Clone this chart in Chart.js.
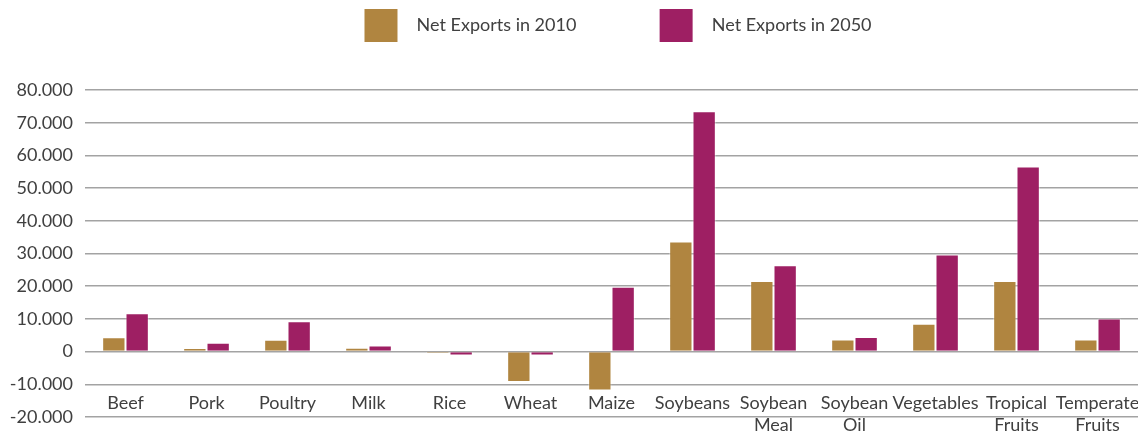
<!DOCTYPE html>
<html>
<head>
<meta charset="utf-8">
<script src="https://cdn.jsdelivr.net/npm/chart.js@4.4.1/dist/chart.umd.min.js"></script>
<style>
  html, body { margin: 0; padding: 0; background: #fff; }
  #wrap { width: 1138px; height: 433px; }
</style>
</head>
<body>
<div id="wrap"><canvas id="chart"></canvas></div>
<script>
const categories = [
    "Beef", "Pork", "Poultry", "Milk", "Rice", "Wheat", "Maize", "Soybeans",
    ["Soybean", "Meal"], ["Soybean", "Oil"], "Vegetables",
    ["Tropical", "Fruits"], ["Temperate", "Fruits"]
];
const exports2010 = [4400, 1100, 3600, 1200, -500, -9300, -11900, 33700, 21600, 3700, 8500, 21600, 3700];
const exports2050 = [11700, 2700, 9300, 1900, -1200, -1200, 19800, 73500, 26400, 4500, 29700, 56600, 10100];
const yMin = -20000;
const yMax = 80000;
const yStep = 10000;

const GOLD = "#b08540";
const PURPLE = "#9e1f63";
const TEXT = "#404040";

// 80000 -> "80.000"
const formatThousands = (v) => {
    const sign = v < 0 ? "-" : "";
    return sign + String(Math.abs(v)).replace(/\B(?=(\d{3})+(?!\d))/g, ".");
};

// legend sits a bit right of centre, with more room under it
const legendPlacement = {
    id: "legendPlacement",
    beforeInit(chart) {
        const fit = chart.legend.fit;
        chart.legend.fit = function () {
            fit.call(this);
            this.height += 38;
        };
    },
    afterLayout(chart) {
        chart.legend.left += 49;
        chart.legend.right += 49;
    }
};

Chart.defaults.font.family = "Lato, 'Noto Sans', sans-serif";
Chart.defaults.color = TEXT;

const config = {
    type: "bar",
    data: {
        labels: categories,
        datasets: [
            {
                label: "Net Exports in 2010",
                backgroundColor: GOLD,
                borderColor: "rgba(255,255,255,0.45)",
                borderWidth: 1,
                data: exports2010
            },
            {
                label: "Net Exports in 2050",
                backgroundColor: PURPLE,
                borderColor: "rgba(255,255,255,0.45)",
                borderWidth: 1,
                data: exports2050
            }
        ]
    },
    options: {
        responsive: true,
        maintainAspectRatio: false,
        animation: false,
        datasets: {
            bar: {
                categoryPercentage: 0.576,
                barPercentage: 1.0
            }
        },
        layout: {
            padding: 0
        },
        plugins: {
            tooltip: { enabled: false },
            legend: {
                position: "top",
                labels: {
                    boxWidth: 33,
                    boxHeight: 33,
                    padding: 9,
                    font: { size: 18 },
                    color: TEXT,
                    generateLabels(chart) {
                        const items = Chart.defaults.plugins.legend.labels.generateLabels(chart);
                        items.forEach((item) => {
                            item.lineWidth = 0;
                            item.text = "\u2002\u200a" + item.text;
                        });
                        items[0].text += "\u2003\u2003\u2003\u2003\u2003\u2009\u2009\u2009";
                        return items;
                    }
                }
            }
        },
        scales: {
            x: {
                grid: { display: false, drawTicks: false },
                border: { display: false },
                afterFit: (scale) => {
                    scale.height = 16;
                    scale.paddingLeft = 0;
                    scale.paddingRight = 0;
                },
                ticks: {
                    mirror: true,
                    padding: 3,
                    maxRotation: 0,
                    autoSkip: false,
                    font: { size: 18, lineHeight: 1.22 },
                    color: TEXT
                }
            },
            y: {
                min: yMin,
                max: yMax,
                afterFit: (scale) => {
                    scale.width = 85;
                    scale.paddingBottom = 0;
                },
                grid: {
                    color: "#a3a3a3",
                    lineWidth: 1.5,
                    drawTicks: false
                },
                border: { display: false },
                ticks: {
                    stepSize: yStep,
                    padding: 12,
                    font: { size: 18 },
                    color: TEXT,
                    callback: (v) => formatThousands(v)
                }
            }
        }
    },
    plugins: [legendPlacement]
};

new Chart(document.getElementById("chart"), config);
</script>
</body>
</html>
